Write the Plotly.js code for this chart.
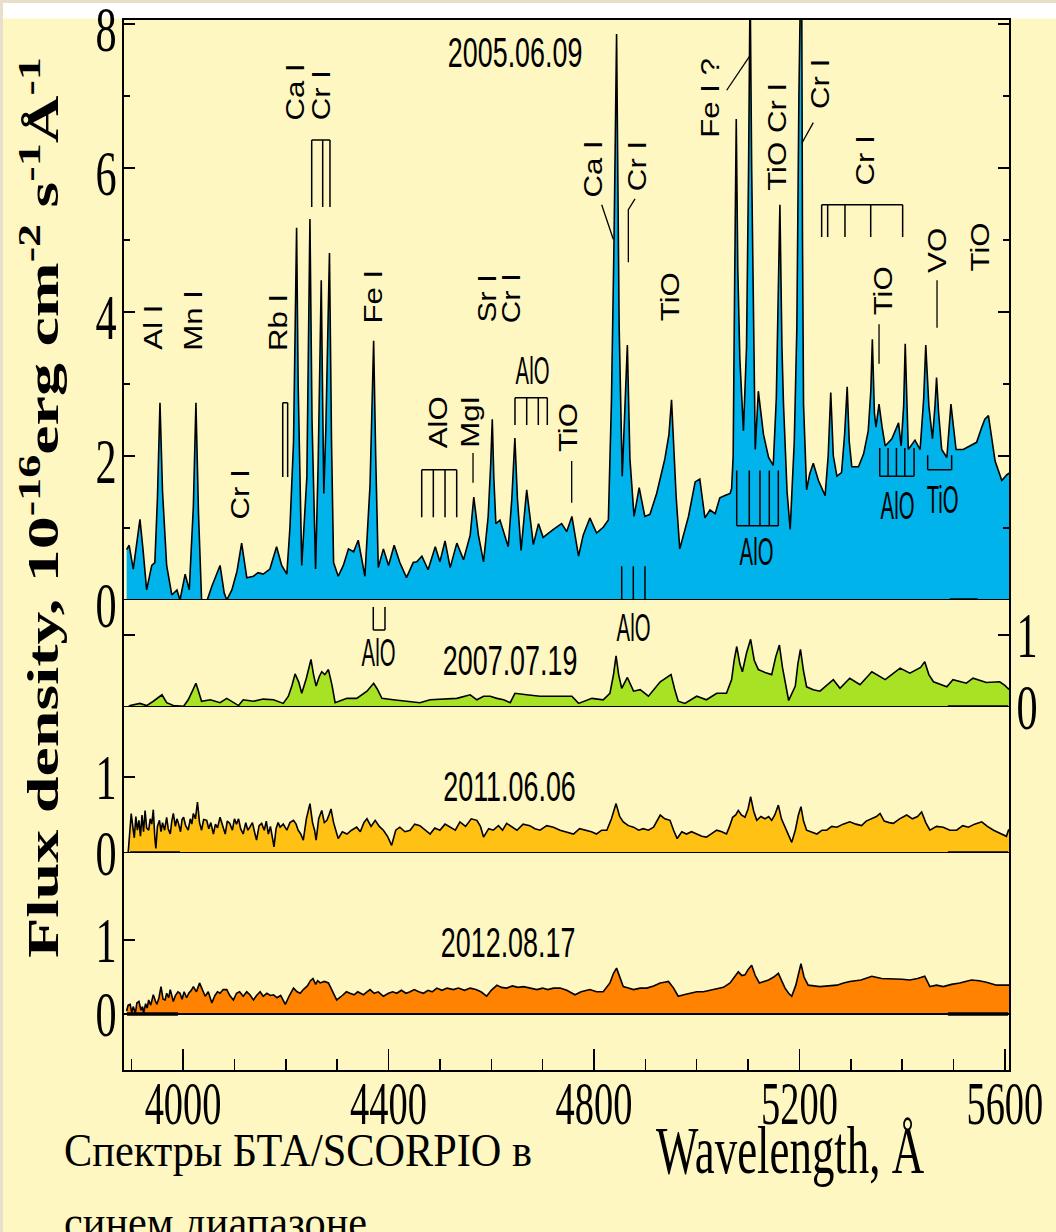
<!DOCTYPE html>
<html><head><meta charset="utf-8">
<script src="https://cdn.plot.ly/plotly-3.0.1.min.js"></script>
<style>html,body{margin:0;padding:0;background:#FFF7C1;overflow:hidden}#chart{width:1056px;height:1232px}</style>
</head><body><div id="chart"></div>
<script>
// ---------------- DATA ----------------
// 2005.06.09 (top panel)
const wl2005 = [
3890,3895,3903,3910,3916,3922,3929,3939,3945,3950,
3955,3960,3968,3978,3988,3994,4004,4012,4020,4025,
4030,4036,4047,4056,4065,4072,4080,4085,4095,4105,
4114,4124,4137,4146,4156,4169,4182,4192,4202,4208,
4215,4218,4221,4224,4231,4241,4244,4247,4251,4258,
4263,4266,4269,4272,4274,4278,4282,4285,4289,4293,
4302,4312,4322,4332,4341,4354,4364,4368,4371,4375,
4380,4390,4400,4411,4422,4435,4448,4455,4465,4477,
4491,4500,4510,4520,4533,4546,4559,4566,4575,4585,
4594,4599,4602,4605,4609,4617,4633,4640,4646,4651,
4658,4669,4682,4692,4701,4721,4737,4747,4757,4770,
4779,4792,4805,4818,4828,4834,4839,4844,4849,4855,
4860,4865,4870,4878,4888,4899,4909,4922,4938,4946,
4951,4956,4960,4967,4984,4997,5006,5016,5026,5036,
5045,5055,5065,5068,5071,5074,5077,5080,5084,5091,
5097,5101,5104,5107,5110,5114,5120,5130,5140,5149,
5155,5157,5162,5166,5169,5176,5182,5190,5195,5199,
5204,5206,5208,5214,5220,5227,5237,5250,5256,5261,
5266,5273,5282,5288,5293,5297,5302,5315,5325,5334,
5339,5342,5346,5349,5355,5361,5367,5380,5393,5398,
5403,5406,5409,5412,5425,5435,5442,5446,5452,5459,
5464,5467,5471,5477,5487,5495,5500,5505,5519,5532,
5545,5555,5561,5568,5575,5581,5594,5604,5610];
const flux2005 = [
0.70,0.76,0.43,0.80,1.12,0.70,0.14,0.48,0.52,1.40,
2.74,1.50,0.48,0.07,0.14,0.00,0.36,0.14,1.30,2.74,
1.20,0.00,0.00,0.19,0.35,0.48,0.10,0.00,0.14,0.40,
0.79,0.31,0.33,0.38,0.36,0.43,0.74,0.48,0.36,1.00,
2.19,3.60,5.17,3.00,0.48,1.71,3.20,5.29,2.50,0.43,
1.90,3.50,4.44,2.60,1.48,2.40,3.70,4.82,2.20,0.52,
0.33,0.48,0.71,0.67,0.83,0.33,1.60,2.90,3.60,2.00,
0.45,0.71,0.48,0.76,0.52,0.31,0.52,0.53,0.61,0.42,
0.74,0.53,0.82,0.45,0.79,0.56,0.90,1.43,0.90,0.53,
1.16,1.90,2.51,1.70,1.06,1.11,0.74,1.40,2.25,1.40,
0.69,1.53,0.77,1.06,0.87,0.98,1.06,0.95,1.16,0.61,
0.90,1.14,0.93,1.01,1.11,2.75,4.97,7.86,3.81,1.72,
2.60,3.54,1.96,1.16,1.56,1.16,1.19,1.48,1.96,2.30,
2.78,2.00,1.43,0.71,1.16,1.64,1.68,1.14,1.25,1.20,
1.42,1.45,1.48,1.55,2.00,4.50,6.68,4.60,3.35,2.35,
3.51,6.00,8.60,6.00,4.00,2.09,2.90,2.30,1.98,1.87,
2.80,3.51,5.49,3.50,2.72,1.50,0.98,2.20,3.78,7.00,
9.50,5.00,2.72,1.53,1.75,1.90,1.66,1.45,2.00,2.88,
2.00,1.72,1.77,2.30,2.96,2.20,1.85,1.85,2.03,2.35,
2.90,3.62,2.60,2.40,2.72,2.40,2.14,2.24,2.46,2.14,
2.70,3.56,2.60,2.09,2.22,2.09,2.80,3.54,2.70,2.24,
2.70,3.09,2.60,2.09,1.98,2.72,2.40,2.09,2.09,2.14,
2.19,2.40,2.51,2.56,2.20,1.93,1.66,1.74,1.77];

// 2007.07.19
const wl2007 = [
3893,3897,3916,3929,3942,3952,3959,3968,3981,4001,
4010,4018,4025,4030,4036,4053,4072,4085,4095,4108,
4117,4137,4156,4176,4195,4205,4212,4218,4225,4231,
4240,4249,4254,4259,4265,4270,4276,4283,4290,4296,
4319,4338,4358,4365,4371,4378,4387,4409,4435,4461,
4481,4507,4533,4559,4572,4585,4598,4611,4624,4637,
4646,4669,4695,4721,4740,4757,4770,4796,4818,4831,
4838,4843,4848,4854,4865,4877,4890,4906,4929,4950,
4957,4964,4977,5000,5019,5039,5058,5068,5073,5078,
5084,5089,5097,5105,5112,5120,5133,5146,5154,5161,
5167,5170,5179,5192,5197,5202,5208,5214,5227,5240,
5253,5266,5279,5298,5318,5341,5367,5396,5415,5436,
5444,5452,5461,5487,5499,5525,5538,5564,5590,5600,
5607,5610];
const flux2007 = [
0.00,0.02,0.05,0.02,0.08,0.14,0.17,0.06,0.02,0.01,
0.10,0.22,0.33,0.22,0.08,0.10,0.06,0.12,0.08,0.02,
0.10,0.08,0.11,0.10,0.05,0.15,0.30,0.46,0.35,0.19,
0.40,0.66,0.45,0.29,0.42,0.49,0.45,0.52,0.30,0.06,
0.12,0.12,0.22,0.28,0.33,0.25,0.12,0.10,0.08,0.06,
0.10,0.11,0.12,0.17,0.10,0.15,0.15,0.12,0.10,0.06,
0.19,0.17,0.15,0.15,0.15,0.15,0.05,0.12,0.10,0.19,
0.45,0.71,0.45,0.26,0.41,0.22,0.24,0.15,0.35,0.45,
0.25,0.08,0.05,0.15,0.10,0.19,0.19,0.38,0.65,0.84,
0.60,0.49,0.75,0.94,0.65,0.52,0.48,0.45,0.70,0.86,
0.55,0.42,0.09,0.29,0.60,0.80,0.50,0.28,0.24,0.22,
0.30,0.38,0.26,0.40,0.31,0.49,0.38,0.54,0.47,0.55,
0.63,0.45,0.35,0.28,0.38,0.33,0.40,0.34,0.35,0.30,
0.25,0.27];

// 2011.06.06
const wl2011 = [
3893,3896,3899,3902,3905,3908,3911,3914,3917,3920,
3923,3926,3929,3933,3936,3939,3942,3945,3947,3950,
3954,3957,3960,3964,3968,3971,3975,3978,3981,3985,
3988,3991,3995,3998,4001,4005,4010,4014,4017,4020,
4024,4028,4032,4036,4040,4046,4050,4054,4059,4063,
4067,4072,4077,4082,4086,4091,4096,4100,4104,4108,
4112,4117,4122,4126,4130,4135,4139,4143,4148,4153,
4158,4162,4166,4170,4174,4177,4181,4185,4189,4195,
4202,4208,4215,4220,4224,4229,4234,4240,4247,4252,
4256,4259,4264,4270,4275,4280,4284,4288,4293,4297,
4302,4310,4319,4328,4338,4345,4352,4358,4366,4374,
4382,4390,4398,4406,4414,4422,4432,4442,4451,4461,
4471,4481,4490,4500,4510,4520,4530,4539,4550,4561,
4572,4579,4585,4595,4604,4614,4622,4630,4640,4650,
4662,4675,4685,4695,4708,4721,4734,4747,4760,4772,
4783,4795,4805,4815,4825,4834,4843,4850,4857,4867,
4877,4887,4896,4906,4916,4923,4929,4938,4948,4955,
4962,4971,4980,4990,5000,5010,5019,5029,5039,5049,
5058,5064,5070,5076,5081,5087,5094,5100,5105,5111,
5117,5125,5133,5140,5146,5152,5159,5165,5172,5179,
5185,5192,5198,5203,5208,5214,5224,5234,5244,5253,
5263,5273,5285,5298,5310,5321,5330,5340,5350,5357,
5365,5375,5383,5395,5409,5420,5430,5438,5446,5454,
5467,5480,5493,5506,5518,5529,5541,5555,5566,5578,
5590,5597,5603,5607,5610];
const flux2011 = [
0.00,0.30,0.52,0.35,0.20,0.48,0.30,0.43,0.22,0.50,
0.28,0.56,0.33,0.30,0.45,0.38,0.57,0.20,0.06,0.35,
0.43,0.28,0.40,0.30,0.47,0.32,0.25,0.42,0.52,0.35,
0.45,0.39,0.28,0.44,0.47,0.36,0.30,0.45,0.38,0.52,
0.45,0.67,0.40,0.30,0.44,0.43,0.32,0.40,0.25,0.38,
0.33,0.47,0.35,0.25,0.42,0.39,0.30,0.45,0.38,0.45,
0.32,0.25,0.40,0.30,0.34,0.40,0.28,0.17,0.36,0.39,
0.30,0.42,0.25,0.35,0.20,0.08,0.32,0.40,0.34,0.38,
0.30,0.40,0.43,0.38,0.30,0.25,0.17,0.45,0.65,0.40,
0.30,0.17,0.45,0.56,0.40,0.43,0.50,0.58,0.40,0.30,
0.19,0.28,0.25,0.30,0.34,0.28,0.40,0.45,0.35,0.43,
0.35,0.30,0.22,0.10,0.30,0.34,0.28,0.30,0.38,0.36,
0.30,0.25,0.33,0.30,0.38,0.34,0.30,0.41,0.35,0.45,
0.43,0.35,0.21,0.32,0.30,0.36,0.30,0.39,0.34,0.30,
0.38,0.36,0.32,0.30,0.36,0.34,0.30,0.28,0.25,0.32,
0.30,0.28,0.25,0.30,0.30,0.45,0.65,0.48,0.41,0.36,
0.34,0.30,0.32,0.30,0.34,0.42,0.50,0.45,0.43,0.30,
0.19,0.28,0.25,0.28,0.25,0.22,0.21,0.26,0.30,0.28,
0.25,0.35,0.47,0.50,0.56,0.50,0.47,0.58,0.74,0.55,
0.43,0.48,0.45,0.48,0.43,0.50,0.63,0.45,0.34,0.22,
0.14,0.30,0.50,0.61,0.42,0.30,0.28,0.25,0.30,0.30,
0.35,0.34,0.38,0.41,0.38,0.36,0.42,0.45,0.48,0.52,
0.42,0.40,0.39,0.45,0.50,0.45,0.48,0.54,0.40,0.30,
0.35,0.34,0.30,0.30,0.36,0.34,0.38,0.41,0.35,0.30,
0.26,0.23,0.22,0.30,0.28];

// 2012.08.17
const wl2012 = [
3890,3893,3897,3900,3903,3907,3910,3914,3918,3921,
3923,3927,3930,3933,3937,3942,3946,3949,3953,3957,
3961,3965,3968,3972,3975,3978,3981,3985,3990,3994,
3998,4002,4007,4011,4016,4020,4026,4032,4037,4043,
4049,4056,4062,4067,4072,4078,4085,4091,4098,4104,
4110,4117,4124,4130,4137,4143,4150,4156,4163,4170,
4176,4183,4190,4199,4207,4215,4222,4228,4234,4242,
4248,4253,4258,4262,4267,4275,4283,4291,4299,4310,
4318,4325,4333,4340,4351,4358,4364,4372,4380,4390,
4400,4408,4416,4425,4434,4442,4450,4459,4468,4477,
4485,4494,4504,4514,4526,4536,4548,4559,4570,4580,
4591,4600,4611,4620,4630,4641,4652,4663,4675,4689,
4700,4710,4721,4734,4747,4763,4775,4792,4805,4818,
4831,4838,4844,4850,4857,4867,4877,4890,4903,4916,
4929,4937,4945,4955,4964,4975,4987,5000,5013,5026,
5039,5052,5065,5073,5081,5088,5094,5100,5107,5114,
5122,5131,5140,5150,5159,5166,5172,5179,5185,5193,
5198,5203,5209,5217,5228,5240,5256,5273,5286,5298,
5320,5341,5360,5383,5400,5415,5430,5444,5454,5467,
5480,5496,5512,5535,5550,5564,5584,5607,5610];
const flux2012 = [
0.04,0.12,0.13,0.02,0.10,0.01,0.15,0.17,0.05,0.10,
0.01,0.14,0.08,0.19,0.12,0.26,0.18,0.13,0.22,0.37,
0.20,0.19,0.28,0.22,0.33,0.25,0.17,0.25,0.30,0.28,
0.20,0.30,0.22,0.28,0.32,0.37,0.30,0.42,0.33,0.24,
0.30,0.15,0.25,0.30,0.28,0.33,0.33,0.25,0.19,0.28,
0.30,0.24,0.30,0.26,0.19,0.25,0.30,0.24,0.28,0.25,
0.26,0.22,0.25,0.13,0.25,0.35,0.30,0.28,0.33,0.38,
0.45,0.48,0.40,0.45,0.42,0.44,0.42,0.30,0.19,0.25,
0.30,0.28,0.26,0.30,0.26,0.30,0.33,0.28,0.30,0.24,
0.28,0.30,0.28,0.32,0.28,0.30,0.33,0.30,0.28,0.32,
0.30,0.35,0.32,0.35,0.33,0.35,0.32,0.35,0.33,0.30,
0.24,0.32,0.39,0.36,0.35,0.38,0.36,0.37,0.35,0.33,
0.35,0.33,0.35,0.35,0.32,0.26,0.30,0.33,0.30,0.30,
0.42,0.55,0.62,0.50,0.37,0.35,0.33,0.35,0.35,0.38,
0.42,0.43,0.44,0.35,0.24,0.26,0.28,0.30,0.30,0.32,
0.33,0.36,0.42,0.50,0.57,0.52,0.53,0.60,0.66,0.52,
0.42,0.44,0.46,0.50,0.55,0.44,0.35,0.28,0.24,0.39,
0.55,0.68,0.50,0.39,0.38,0.37,0.38,0.39,0.42,0.44,
0.46,0.51,0.48,0.48,0.47,0.46,0.48,0.51,0.37,0.39,
0.37,0.40,0.42,0.46,0.45,0.43,0.39,0.39,0.39];

// Line identifications (rotated labels) in panel 1: text, wavelength, flux position
const idText = ["Al I","Mn I","Cr I","Rb I","Fe I","Ca I","Cr I","AlO","MgI","Sr I","Cr I","TiO","Ca I","Cr I","TiO","Fe I ?","TiO Cr I","Cr I","Cr I","TiO","VO","TiO"];
const idWl   = [3941,4019,4111,4185,4370,4218,4270,4496,4559,4592,4640,4749,4798,4884,4948,5026,5156,5240,5328,5363,5468,5552];
const idFlux = [3.79,3.89,1.47,3.86,4.21,7.06,7.01,2.47,2.47,4.19,4.19,2.40,5.99,6.03,4.22,6.97,6.43,7.17,6.11,4.29,4.86,4.90];
// Band labels (horizontal)
const bandText = ["AlO","AlO","AlO","AlO","AlO","TiO"];
const bandWl   = [4681,4876,4381,5117,5390,5478];
const bandFlux = [3.19,1.11,0.76,0.67,1.31,1.39];
const bandAxis = ["y","y2","y2","y","y","y"];
// Epoch labels
const dateText = ["2005.06.09","2007.07.19","2011.06.06","2012.08.17"];
const dateWl   = [4646,4636,4635,4633];
const dateFlux = [7.61,0.65,0.87,0.96];
const dateAxis = ["y","y2","y3","y4"];
// Band brackets: wavelengths of components, joining level, free-end level
const brWl = [[4194,4203.6],[4250.4,4271.8,4286],[4464.6,4487.2,4510,4532.7],[4646.2,4669,4691.6,4709.1],
              [4854,4876.6,4899.3],[4370.3,4393.1],[5243.3,5255,5288.7,5338.8,5401],
              [5077.9,5102.4,5123.2,5141.4,5158.9],[5356.4,5372.6,5388.9,5405.1,5423.2],[5449.7,5496.4]];
const brJoin = [2.74,6.39,1.81,2.81,0.00,1.069,5.49,1.03,1.72,1.81];
const brEnd  = [1.71,5.46,1.15,2.43,0.47,1.389,5.04,1.80,2.11,2.01];
const brAxis = ["y","y","y","y","y","y2","y","y","y","y"];
// Leader lines
const ldWl   = [[4564.5,4564.5],[4756.6,4756.6],[4815,4837.6],[4879.9,4866.9,4866.9],[5058.4,5103.8],[5227,5204.4],[5355,5355],[5467.9,5467.9]];
const ldFlux = [[2.04,1.63],[1.93,1.35],[5.49,5.01],[5.57,5.42,4.69],[7.08,7.56],[6.63,6.34],[3.83,3.28],[4.44,3.78]];
// Heavy zero-level marks
const zmAxis = ["y","y2","y3","y3","y4","y4"];
const zmWl0  = [5493,5489,5489,3897,5489,3891];
const zmWl1  = [5547,5606,5606,3994,5606,3990];

// ---------------- STYLE ----------------
const BG = '#FFF7C1';
const fills = ['#00B4EB','#A8E224','#FFC114','#FF8200'];
const serif = 'Liberation Serif', sans = 'Liberation Sans';

function tr(x, y, yaxis, fc) {
  return {x, y, xaxis:'x', yaxis, type:'scatter', mode:'lines', fill:'tozeroy',
          fillcolor: fc, line:{color:'#000', width:1.6}, hoverinfo:'skip'};
}
const data = [
  tr(wl2005, flux2005, 'y', fills[0]),
  tr(wl2007, flux2007, 'y2', fills[1]),
  tr(wl2011, flux2011, 'y3', fills[2]),
  tr(wl2012, flux2012, 'y4', fills[3])
];

const tickFont = {family: serif, size: 64, color:'#000'};
const yBase = {anchor:'x', showgrid:false, zeroline:false, showline:false, ticks:'inside', ticklabeloverflow:'allow',
  ticklen:12, tickwidth:1.5, tickcolor:'#000', tickfont: tickFont, fixedrange:true};

const layout = {
  width:1056, height:1232,
  margin:{l:123, r:46, t:19, b:161, pad:0},
  paper_bgcolor: BG, plot_bgcolor:'rgba(0,0,0,0)', showlegend:false,
  xaxis:{domain:[0,1], range:[3883,5610], anchor:'y4', showgrid:false, zeroline:false, showline:false,
    ticks:'inside', tick0:4000, dtick:400, ticklen:22, tickwidth:1.5, tickcolor:'#000', ticklabeloverflow:'allow',
    ticklabelstandoff:-10,
    tickfont:{family: serif, size:62, color:'#000'},
    minor:{ticks:'inside', tick0:3900, dtick:100, ticklen:12, tickwidth:1.5, tickcolor:'#000', showgrid:false}},
  yaxis: Object.assign({}, yBase, {domain:[0.44772,1], range:[0,8.0694], side:'left', mirror:'ticks', ticklabelshift:5,
    tickvals:[0,2,4,6,8], minor:{ticks:'inside', dtick:1, ticklen:7, tickwidth:1.5, tickcolor:'#000', showgrid:false}}),
  yaxis2: Object.assign({}, yBase, {domain:[0.34601,0.44772], range:[0,1.4861], side:'right', mirror:'ticks', tickvals:[0,1]}),
  yaxis3: Object.assign({}, yBase, {domain:[0.20722,0.34601], range:[0,1.9211], side:'left', tickvals:[0,1]}),
  yaxis4: Object.assign({}, yBase, {domain:[0,0.20722], range:[-0.7703,2.1757], side:'left', tickvals:[0,1]}),
  yaxis5: Object.assign({}, yBase, {overlaying:'y4', range:[-0.7703,2.1757], side:'right', tickvals:[0,1]}),
  shapes: [], annotations: []
};

// page decorations (slide frame)
const px2x = p => (p-123)/887, py2y = p => (1071-p)/1052;
layout.shapes.push({type:'rect', xref:'paper', yref:'paper', x0:px2x(0), x1:px2x(1056), y0:py2y(3), y1:py2y(18.5), fillcolor:'#FFFFFF', line:{width:0}, layer:'below'});
layout.shapes.push({type:'rect', xref:'paper', yref:'paper', x0:px2x(0), x1:px2x(1056), y0:py2y(0), y1:py2y(3), fillcolor:'#E6E0CB', line:{width:0}, layer:'below'});
layout.shapes.push({type:'rect', xref:'paper', yref:'paper', x0:px2x(0), x1:px2x(3), y0:py2y(1232), y1:py2y(0), fillcolor:'#E6E0CB', line:{width:0}, layer:'below'});
// plot frame
layout.shapes.push({type:'rect', xref:'paper', yref:'paper', x0:0, x1:1, y0:0, y1:1, line:{color:'#000', width:2}, layer:'above'});
// zero levels of each spectrum
['y','y2','y3','y4'].forEach(a => layout.shapes.push({type:'line', xref:'paper', yref:a, x0:0, x1:1, y0:0, y1:0, line:{color:'#000', width:1.8}, layer:'above'}));
zmAxis.forEach((a,i) => layout.shapes.push({type:'line', xref:'x', yref:a, x0:zmWl0[i], x1:zmWl1[i], y0:0, y1:0, line:{color:'#000', width:3.5}, layer:'above'}));
// brackets
brWl.forEach((ws,i) => {
  let p = 'M' + Math.min(...ws) + ',' + brJoin[i] + ' L' + Math.max(...ws) + ',' + brJoin[i];
  ws.forEach(w => { p += ' M' + w + ',' + brJoin[i] + ' L' + w + ',' + brEnd[i]; });
  layout.shapes.push({type:'path', xref:'x', yref:brAxis[i], path:p, line:{color:'#000', width:1.5}, layer:'above'});
});
ldWl.forEach((ws,i) => {
  const p = ws.map((w,k) => (k?'L':'M') + w + ',' + ldFlux[i][k]).join(' ');
  layout.shapes.push({type:'path', xref:'x', yref:'y', path:p, line:{color:'#000', width:1.3}, layer:'above'});
});

// annotations, with horizontal/vertical squeeze factors applied after rendering
const squeezeAnn = [];
idText.forEach((t,i) => { layout.annotations.push({text:t, x:idWl[i], y:idFlux[i], xref:'x', yref:'y', textangle:-90, showarrow:false,
  xanchor:'center', yanchor:'middle', font:{family:sans, size:26, color:'#000'}}); squeezeAnn.push([1,1.2]); });
bandText.forEach((t,i) => { layout.annotations.push({text:t, x:bandWl[i], y:bandFlux[i], xref:'x', yref:bandAxis[i], showarrow:false,
  xanchor:'center', yanchor:'middle', font:{family:sans, size:39, color:'#000'}}); squeezeAnn.push([0.52,1]); });
dateText.forEach((t,i) => { layout.annotations.push({text:t, x:dateWl[i], y:dateFlux[i], xref:'x', yref:dateAxis[i], showarrow:false,
  xanchor:'center', yanchor:'middle', font:{family:sans, size:42, color:'#000'}}); squeezeAnn.push([0.64,1]); });
layout.annotations.push({text:'Flux density, 10<sup>-16</sup>erg cm<sup>-2</sup> s<sup>-1</sup>Å<sup>-1</sup>', xref:'paper', yref:'paper',
  x:px2x(40), y:py2y(508), xanchor:'center', yanchor:'middle', textangle:-90, showarrow:false,
  font:{family:serif, size:44, weight:'bold', color:'#000'}});
squeezeAnn.push([1,1.5]);
layout.annotations.push({text:'Wavelength, Å', xref:'paper', yref:'paper', x:px2x(790), y:py2y(1150), xanchor:'center', yanchor:'middle',
  showarrow:false, font:{family:serif, size:68, color:'#000'}});
squeezeAnn.push([0.66,1]);
layout.annotations.push({text:'Спектры БТА/SCORPIO в', xref:'paper', yref:'paper', x:px2x(62), y:py2y(1150), xanchor:'left', yanchor:'middle',
  showarrow:false, font:{family:serif, size:46, color:'#000'}});
squeezeAnn.push([0.92,1]);
layout.annotations.push({text:'синем диапазоне', xref:'paper', yref:'paper', x:px2x(62), y:py2y(1222), xanchor:'left', yanchor:'middle',
  showarrow:false, font:{family:serif, size:46, color:'#000'}});
squeezeAnn.push([0.92,1]);

function squeeze(el, sx, sy, anchorLeft) {
  const r = el.getBoundingClientRect();
  if (!r.width && !r.height) return;
  const cx = anchorLeft ? r.left : r.left + r.width/2, cy = r.top + r.height/2;
  const pm = el.parentNode.getScreenCTM();
  const P = new DOMMatrix([pm.a,pm.b,pm.c,pm.d,pm.e,pm.f]);
  const S = new DOMMatrix().translate(cx,cy).scale(sx,sy).translate(-cx,-cy);
  const A = P.inverse().multiply(S).multiply(P);
  const old = el.getAttribute('transform') || '';
  el.setAttribute('transform', `matrix(${A.a},${A.b},${A.c},${A.d},${A.e},${A.f}) ${old}`);
}

Plotly.newPlot('chart', data, layout, {staticPlot:true, displayModeBar:false}).then(gd => {
  gd.querySelectorAll('.xtick text').forEach(el => squeeze(el, 0.62, 1));
  gd.querySelectorAll('.ytick text, .y2tick text, .y3tick text, .y4tick text, .y5tick text').forEach(el => squeeze(el, 0.66, 1));
  gd.querySelectorAll('g.annotation').forEach(g => {
    const i = +g.getAttribute('data-index');
    const el = g.querySelector('text');
    if (el && squeezeAnn[i]) squeeze(el, squeezeAnn[i][0], squeezeAnn[i][1], layout.annotations[i].xanchor === 'left');
  });
});
</script>
</body></html>
